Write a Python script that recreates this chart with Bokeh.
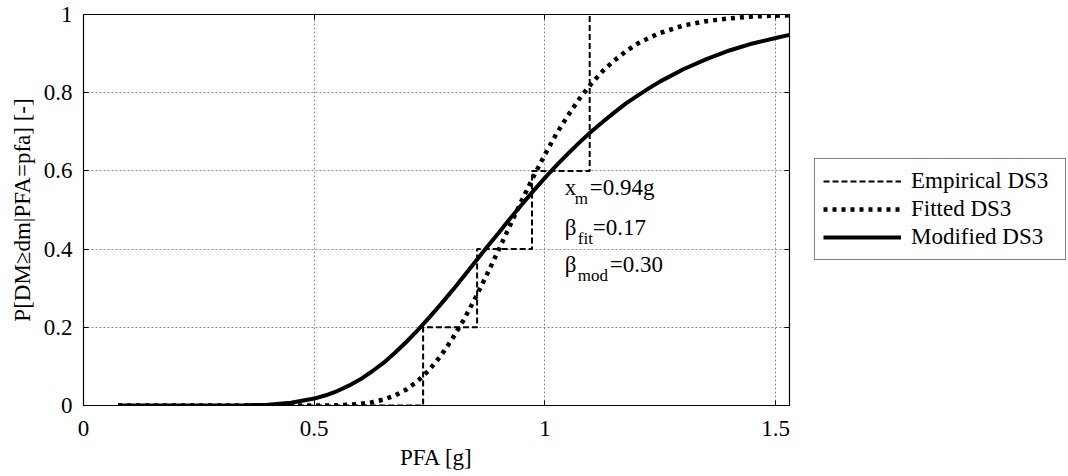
from bokeh.plotting import figure
from bokeh.layouts import row
from bokeh.models import Legend, LegendItem, LinearAxis, FixedTicker, Range1d
from bokeh.core.properties import value
from bokeh.embed import file_html
from bokeh.resources import INLINE

# ---------------- data ----------------
pfa = [0.075, 0.1, 0.15, 0.2, 0.25, 0.3, 0.35, 0.4, 0.45, 0.5, 0.525, 0.55, 0.575,
       0.6, 0.625, 0.65, 0.675, 0.7, 0.725, 0.75, 0.775, 0.8, 0.825, 0.85, 0.875,
       0.9, 0.925, 0.95, 0.975, 1.0, 1.025, 1.05, 1.075, 1.1, 1.125, 1.15, 1.175,
       1.2, 1.225, 1.25, 1.3, 1.35, 1.4, 1.45, 1.5, 1.53]
fitted = [0.0, 0.0, 0.0, 0.0, 0.0, 0.0, 0.0, 0.0, 0.0, 0.0001, 0.0003, 0.0008, 0.0019,
          0.0041, 0.0082, 0.015, 0.0257, 0.041, 0.0633, 0.092, 0.128, 0.172, 0.221, 0.277, 0.337,
          0.399, 0.462, 0.525, 0.585, 0.642, 0.695, 0.742, 0.785, 0.822, 0.855, 0.882, 0.905,
          0.925, 0.940, 0.953, 0.972, 0.983, 0.990, 0.995, 0.997, 0.998]
modified = [0.0, 0.0, 0.0, 0.0, 0.0, 0.0001, 0.0005, 0.0022, 0.007, 0.0177, 0.0261, 0.037, 0.0507,
            0.067, 0.0869, 0.109, 0.1348, 0.163, 0.1933, 0.226, 0.260, 0.295, 0.332, 0.369, 0.406,
            0.442, 0.479, 0.514, 0.549, 0.582, 0.614, 0.644, 0.673, 0.700, 0.725, 0.749, 0.772,
            0.792, 0.811, 0.829, 0.860, 0.886, 0.908, 0.926, 0.940, 0.948]
emp_x = [0.075, 0.736, 0.736, 0.853, 0.853, 0.972, 0.972, 1.097, 1.097]
emp_y = [0.0, 0.0, 0.2, 0.2, 0.4, 0.4, 0.6, 0.6, 1.0]

series_labels = ["Empirical DS3", "Fitted DS3", "Modified DS3"]
x_ticks = [0, 0.5, 1, 1.5]
x_tick_labels = ["0", "0.5", "1", "1.5"]
y_ticks = [0, 0.2, 0.4, 0.6, 0.8, 1]
y_tick_labels = ["0", "0.2", "0.4", "0.6", "0.8", "1"]
x_label = "PFA [g]"
y_label = "P[DM\u2265dm|PFA=pfa] [-]"
ann_main = ["x", "\u03b2", "\u03b2"]
ann_sub = ["m", "fit", "mod"]
ann_val = ["=0.94g", "=0.17", "=0.30"]

FONT = "Liberation Serif"

p = figure(width=800, height=476, x_range=Range1d(0, 1.53), y_range=Range1d(0, 1),
           output_backend="svg", toolbar_location=None,
           min_border_left=83, min_border_right=11, min_border_top=14, min_border_bottom=71)
p.background_fill_color = "white"
p.border_fill_color = "white"
p.outline_line_color = "black"
p.outline_line_width = 1.2

for ax in (p.xaxis[0], p.yaxis[0]):
    ax.major_label_text_font = FONT
    ax.major_label_text_font_size = "23px"
    ax.major_label_text_color = "black"
    ax.axis_label_text_font = FONT
    ax.axis_label_text_font_size = "23px"
    ax.axis_label_text_font_style = "normal"
    ax.axis_label_text_color = "black"
    ax.major_tick_in = 5
    ax.major_tick_out = 0
    ax.major_tick_line_color = "black"
    ax.minor_tick_line_color = None
    ax.axis_line_color = None

p.xaxis.ticker = FixedTicker(ticks=x_ticks)
p.yaxis.ticker = FixedTicker(ticks=y_ticks)
p.xaxis.major_label_overrides = dict(zip(x_ticks, x_tick_labels))
p.yaxis.major_label_overrides = dict(zip(y_ticks, y_tick_labels))
p.xaxis.axis_label = x_label
p.yaxis.axis_label = y_label
p.xaxis.major_label_standoff = 15
p.yaxis.major_label_standoff = 11
p.xaxis.axis_label_standoff = 6
p.yaxis.axis_label_standoff = 6

# mirrored tick marks on top and right (no labels)
top_ax = LinearAxis(ticker=FixedTicker(ticks=x_ticks), major_label_text_font_size="1px",
                    major_label_text_color=None, major_tick_in=5, major_tick_out=0,
                    minor_tick_line_color=None, axis_line_color=None, major_label_standoff=0)
right_ax = LinearAxis(ticker=FixedTicker(ticks=y_ticks), major_label_text_font_size="1px",
                      major_label_text_color=None, major_tick_in=5, major_tick_out=0,
                      minor_tick_line_color=None, axis_line_color=None, major_label_standoff=0)
p.add_layout(top_ax, "above")
p.add_layout(right_ax, "right")

p.grid.grid_line_color = "#8c8c8c"
p.grid.grid_line_dash = "2 2"
p.grid.grid_line_width = 1
p.xgrid.ticker = FixedTicker(ticks=x_ticks)
p.ygrid.ticker = FixedTicker(ticks=y_ticks)

EMP = dict(line_color="black", line_width=2, line_dash="6 3")
FIT = dict(line_color="black", line_width=4.5, line_dash="4 5")
MOD = dict(line_color="black", line_width=4)

p.line(emp_x, emp_y, **EMP)
p.line(pfa, fitted, **FIT)
p.line(pfa, modified, **MOD)

# annotation with subscripts
ann_x = 1.043
ann_y = [0.558, 0.455, 0.36]
sub_dx = [10, 13, 13]
val_dx = [25, 28, 45]
p.text(x=[ann_x] * 3, y=ann_y, text=ann_main, text_font=value(FONT), text_font_size="23px",
       text_align="left", text_baseline="middle", text_color="black")
p.text(x=[ann_x] * 3, y=ann_y, text=ann_sub, text_font=value(FONT), text_font_size="17px",
       text_align="left", text_baseline="middle", text_color="black",
       x_offset=sub_dx, y_offset=11)
p.text(x=[ann_x] * 3, y=ann_y, text=ann_val, text_font=value(FONT), text_font_size="23px",
       text_align="left", text_baseline="middle", text_color="black", x_offset=val_dx)

# legend panel to the right of the axes (same series, kept out of its view)
q = figure(width=268, height=476, x_range=Range1d(50, 51), y_range=Range1d(50, 51),
           output_backend="svg", toolbar_location=None, x_axis_type=None, y_axis_type=None,
           min_border_left=0, min_border_right=0, min_border_top=0, min_border_bottom=0)
q.outline_line_color = None
q.grid.visible = False
q.background_fill_color = "white"
q.border_fill_color = "white"
l_emp = q.line(emp_x, emp_y, **EMP)
l_fit = q.line(pfa, fitted, **FIT)
l_mod = q.line(pfa, modified, **MOD)

legend = Legend(items=[LegendItem(label=series_labels[0], renderers=[l_emp]),
                       LegendItem(label=series_labels[1], renderers=[l_fit]),
                       LegendItem(label=series_labels[2], renderers=[l_mod])],
                location=(14, 145))
legend.label_text_font = FONT
legend.label_text_font_size = "23px"
legend.label_text_color = "black"
legend.border_line_color = "black"
legend.border_line_width = 1.2
legend.background_fill_color = "white"
legend.background_fill_alpha = 1
legend.padding = 8
legend.spacing = 0
legend.glyph_width = 78
legend.glyph_height = 28
legend.label_height = 28
legend.label_width = 146
legend.label_standoff = 10
legend.margin = 0
q.add_layout(legend, "center")

layout = row(p, q, spacing=0)
open("out.html", "w").write(file_html(layout, INLINE))
